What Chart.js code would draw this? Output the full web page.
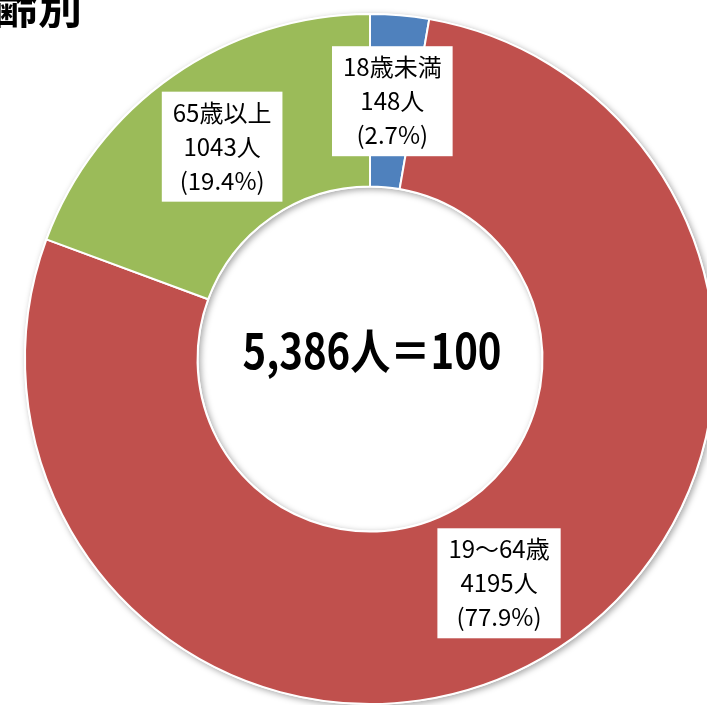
<!DOCTYPE html>
<html>
<head>
<meta charset="utf-8">
<script src="https://cdn.jsdelivr.net/npm/chart.js@4/dist/chart.umd.min.js"></script>
<style>
  html, body { margin: 0; padding: 0; background: #fff; overflow: hidden; width: 707px; height: 705px; }
  #wrap { position: absolute; left: 0; top: 0; width: 740px; height: 718px; }
</style>
</head>
<body>
<div id="wrap"><canvas id="c" width="740" height="718"></canvas></div>
<script>
const categories = ['18歳未満', '19～64歳', '65歳以上'];
const counts = [148, 4195, 1043];
const percents = ['2.7%', '77.9%', '19.4%'];
const colors = ['#4F81BD', '#C0504D', '#9BBB59'];
const totalLabel = '5,386人＝100';
const titleText = '年齢別';

const LABEL_FONT = '24px "Noto Sans CJK JP", sans-serif';

// soft drop shadow under the whole ring
const ringShadow = {
  id: 'ringShadow',
  beforeDatasetsDraw(chart) {
    const arc = chart.getDatasetMeta(0).data[0];
    if (!arc) return;
    const {x, y, outerRadius, innerRadius} = arc.getProps(['x', 'y', 'outerRadius', 'innerRadius'], true);
    const ctx = chart.ctx;
    ctx.save();
    ctx.shadowColor = 'rgba(0,0,0,0.35)';
    ctx.shadowBlur = 6;
    ctx.shadowOffsetX = 2;
    ctx.shadowOffsetY = 2;
    ctx.beginPath();
    ctx.arc(x, y, outerRadius + 1, 0, Math.PI * 2);
    ctx.arc(x, y, innerRadius - 1, 0, Math.PI * 2, true);
    ctx.fillStyle = '#fff';
    ctx.fill('evenodd');
    ctx.restore();
  }
};

// white boxes with the three-line labels
const boxLabels = {
  id: 'boxLabels',
  afterDatasetsDraw(chart) {
    const ctx = chart.ctx;
    const meta = chart.getDatasetMeta(0);
    ctx.save();
    ctx.font = LABEL_FONT;
    ctx.textAlign = 'center';
    ctx.textBaseline = 'middle';
    meta.data.forEach((arc, i) => {
      const pos = arc.tooltipPosition(true);
      const lines = [categories[i], counts[i] + '人', '(' + percents[i] + ')'];
      const w = Math.max(...lines.map(t => ctx.measureText(t).width)) + 22;
      const h = 110;
      ctx.fillStyle = '#fff';
      ctx.fillRect(pos.x - w / 2, pos.y - h / 2, w, h);
      ctx.fillStyle = '#000';
      lines.forEach((t, k) => ctx.fillText(t, pos.x, pos.y + (k - 1) * 34));
    });
    ctx.restore();
  },
  afterDraw(chart) {
    const ctx = chart.ctx;
    const arc = chart.getDatasetMeta(0).data[0];
    ctx.save();
    // centre total
    ctx.font = 'bold 48px "Noto Sans CJK JP", sans-serif';
    ctx.fillStyle = '#000';
    ctx.textAlign = 'center';
    ctx.textBaseline = 'middle';
    const tw = ctx.measureText(totalLabel).width;
    ctx.translate(arc.x + 2, arc.y - 8);
    ctx.scale(259 / tw, 1);
    ctx.fillText(totalLabel, 0, 0);
    ctx.restore();
    // cropped title at the top left
    ctx.save();
    ctx.font = 'bold 44px "Noto Sans CJK JP", sans-serif';
    ctx.fillStyle = '#000';
    ctx.textAlign = 'right';
    ctx.textBaseline = 'alphabetic';
    ctx.fillText(titleText, 82, 24);
    ctx.restore();
  }
};

new Chart(document.getElementById('c'), {
  type: 'doughnut',
  data: {
    labels: categories,
    datasets: [{
      data: counts,
      backgroundColor: colors,
      borderColor: '#fff',
      borderWidth: 2
    }]
  },
  options: {
    responsive: false,
    animation: false,
    cutout: '50%',
    layout: { padding: 13 },
    events: [],
    plugins: {
      legend: { display: false },
      tooltip: { enabled: false },
      title: { display: false }
    }
  },
  plugins: [ringShadow, boxLabels]
});
</script>
</body>
</html>
